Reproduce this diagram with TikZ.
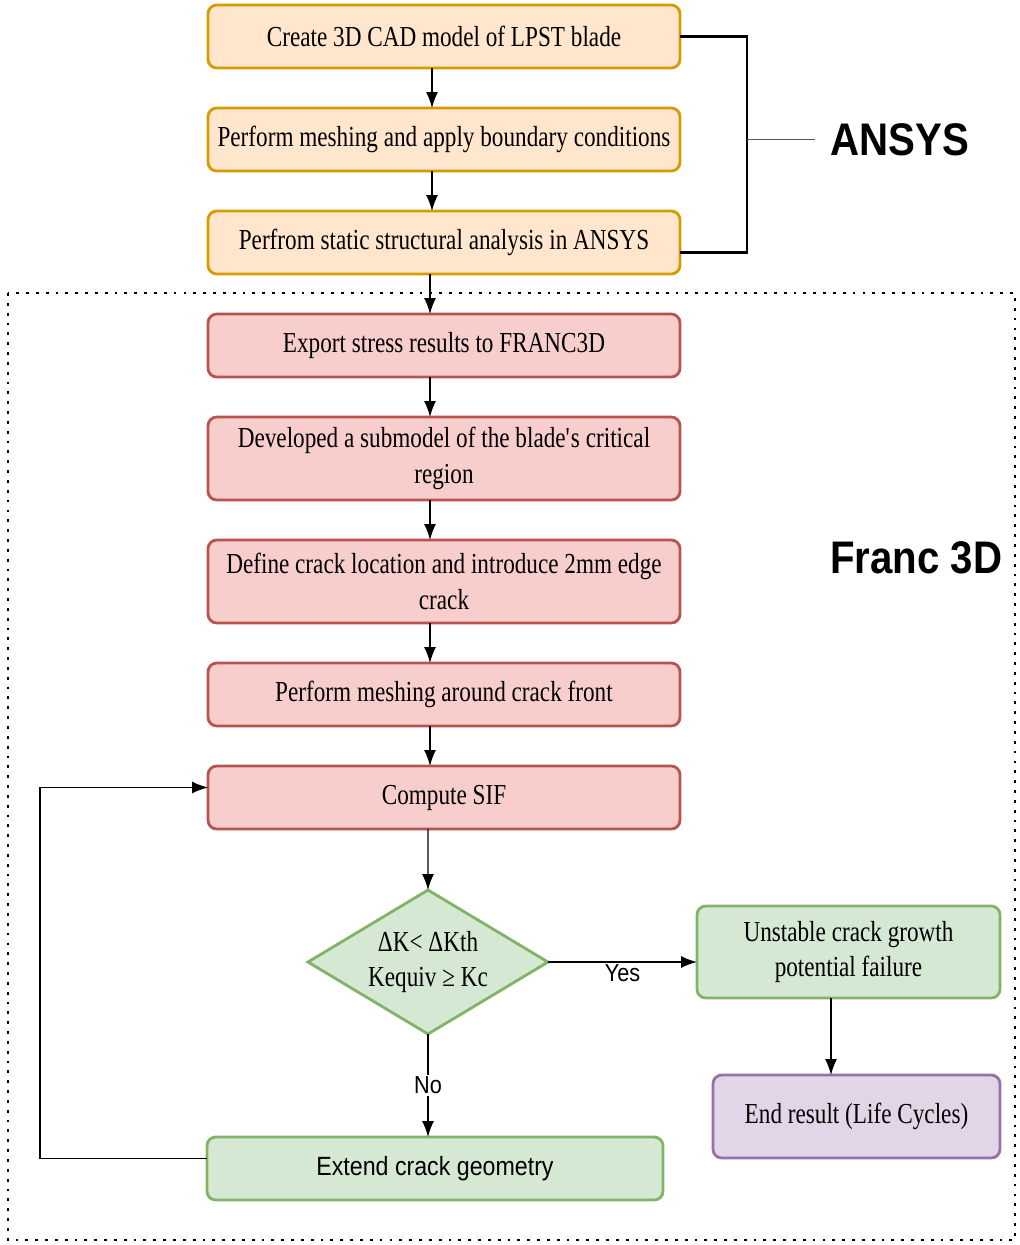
\documentclass[tikz,border=0pt]{standalone}
\usepackage{fontspec}
\setmainfont[FakeStretch=0.8]{Liberation Serif}
\setsansfont[FakeStretch=0.88]{Liberation Sans}
\usepackage{xcolor}
\usetikzlibrary{shapes.geometric, arrows.meta, positioning, calc}

\definecolor{ansysfill}{HTML}{FFE6CC}
\definecolor{ansysdraw}{HTML}{D79B00}
\definecolor{francfill}{HTML}{F8CECC}
\definecolor{francdraw}{HTML}{B85450}
\definecolor{resfill}{HTML}{D5E8D4}
\definecolor{resdraw}{HTML}{82B366}
\definecolor{endfill}{HTML}{E1D5E7}
\definecolor{enddraw}{HTML}{9673A6}

\begin{document}
\begin{tikzpicture}[
    node distance=0.8cm,
    every node/.style={font=\fontsize{16.5}{20.4}\selectfont, align=center},
    ansysbox/.style={rectangle, draw=ansysdraw, fill=ansysfill, rounded corners=5pt, minimum width=9.44cm, minimum height=1.26cm, line width=1.6pt, outer sep=0pt},
    francbox/.style={ansysbox, draw=francdraw, fill=francfill},
    resultbox/.style={ansysbox, draw=resdraw, fill=resfill},
    endbox/.style={ansysbox, draw=enddraw, fill=endfill},
    decision/.style={diamond, draw=resdraw, fill=resfill, line width=1.6pt, minimum width=4.8cm, minimum height=2.88cm, aspect=1.667, inner sep=0pt, outer sep=0pt},
    tool/.style={font=\sffamily\bfseries\fontsize{26}{30}\selectfont, inner sep=0.3cm},
    branch/.style={font=\sffamily\fontsize{14}{16}\selectfont, fill=white, inner sep=1pt},
    arrow/.style={-{Latex[length=3.2mm, width=2.4mm]}, line width=0.8pt},
    frame/.style={dash pattern=on 1.6pt off 4pt, line width=1.6pt}
]
\useasboundingbox (0,0) rectangle (20.4,-24.9);

% Nodes
\node (model) [ansysbox] at (8.88,-0.73) {Create 3D CAD model of LPST blade};
\node (mesh) [ansysbox, below=of model] {Perform meshing and apply boundary conditions};
\node (static) [ansysbox, below=of mesh] {Perfrom static structural analysis in ANSYS};
\node (export) [francbox, below=of static] {Export stress results to FRANC3D};
\node (submodel) [francbox, below=of export, minimum height=1.66cm] {Developed a submodel of the blade\textquotesingle s critical\\region};
\node (crack) [francbox, below=of submodel, minimum height=1.66cm] {Define crack location and introduce 2mm edge\\crack};
\node (cmesh) [francbox, below=of crack] {Perform meshing around crack front};
\node (sif) [francbox, below=of cmesh] {Compute SIF};

% Decision and results
\node (check) [decision, below=1.22cm of sif, xshift=-0.32cm] {ΔK< ΔKth\\Kequiv ≥ Kc};
\node (extend) [resultbox, below=2.06cm of check, xshift=0.14cm, minimum width=9.12cm, font=\sffamily\fontsize{15}{18}\selectfont] {Extend crack geometry};
\node (unstable) [resultbox, right=2.98cm of check, yshift=0.2cm, minimum width=6.06cm, minimum height=1.84cm] {Unstable crack growth\\potential failure};
\node (life) [endbox, below=1.54cm of unstable, xshift=0.16cm, minimum width=5.74cm, minimum height=1.66cm] {End result (Life Cycles)};

% Tool labels
\node (ansys) [tool, right=2.7cm of mesh] {ANSYS};
\node (franc) [tool, right=2.7cm of crack, yshift=0.47cm] {Franc 3D};

% Franc 3D region
\draw [frame] (0.16,-5.86) rectangle (20.3,-24.8);

% Arrows
\draw [arrow] ($(model.south)+(-0.24,0)$) -- ($(mesh.north)+(-0.24,0)$);
\draw [arrow] ($(mesh.south)+(-0.24,0)$) -- ($(static.north)+(-0.24,0)$);
\draw [arrow] ($(static.south)+(-0.28,0)$) -- ($(export.north)+(-0.28,0)$);
\draw [arrow] ($(export.south)+(-0.28,0)$) -- ($(submodel.north)+(-0.28,0)$);
\draw [arrow] ($(submodel.south)+(-0.28,0)$) -- ($(crack.north)+(-0.28,0)$);
\draw [arrow] ($(crack.south)+(-0.28,0)$) -- ($(cmesh.north)+(-0.28,0)$);
\draw [arrow] ($(cmesh.south)+(-0.28,0)$) -- ($(sif.north)+(-0.28,0)$);
\draw [arrow] ($(sif.south)+(-0.32,0)$) -- (check.north);

\draw [arrow] (check.east) -- (check.east -| unstable.west) node [branch, midway, yshift=-0.22cm] {Yes};
\draw [arrow] (check.south) -- (check.south |- extend.north) node [branch, midway] {No};

\coordinate (drop) at ($(unstable.south)+(-0.35,0)$);
\draw [arrow] (drop) -- (drop |- life.north);

% Loop back to SIF
\draw [arrow] ([yshift=0.2cm]extend.west) -- ++(-3.34,0) |- ([yshift=0.2cm]sif.west);

% ANSYS bracket
\draw [line width=1.6pt] (model.east) -- ++(1.34,0) coordinate (brk) |- ([yshift=-0.2cm]static.east);
\draw [line width=1pt, draw=gray!70!black] (brk |- mesh.east) -- (ansys.west);

\end{tikzpicture}
\end{document}
